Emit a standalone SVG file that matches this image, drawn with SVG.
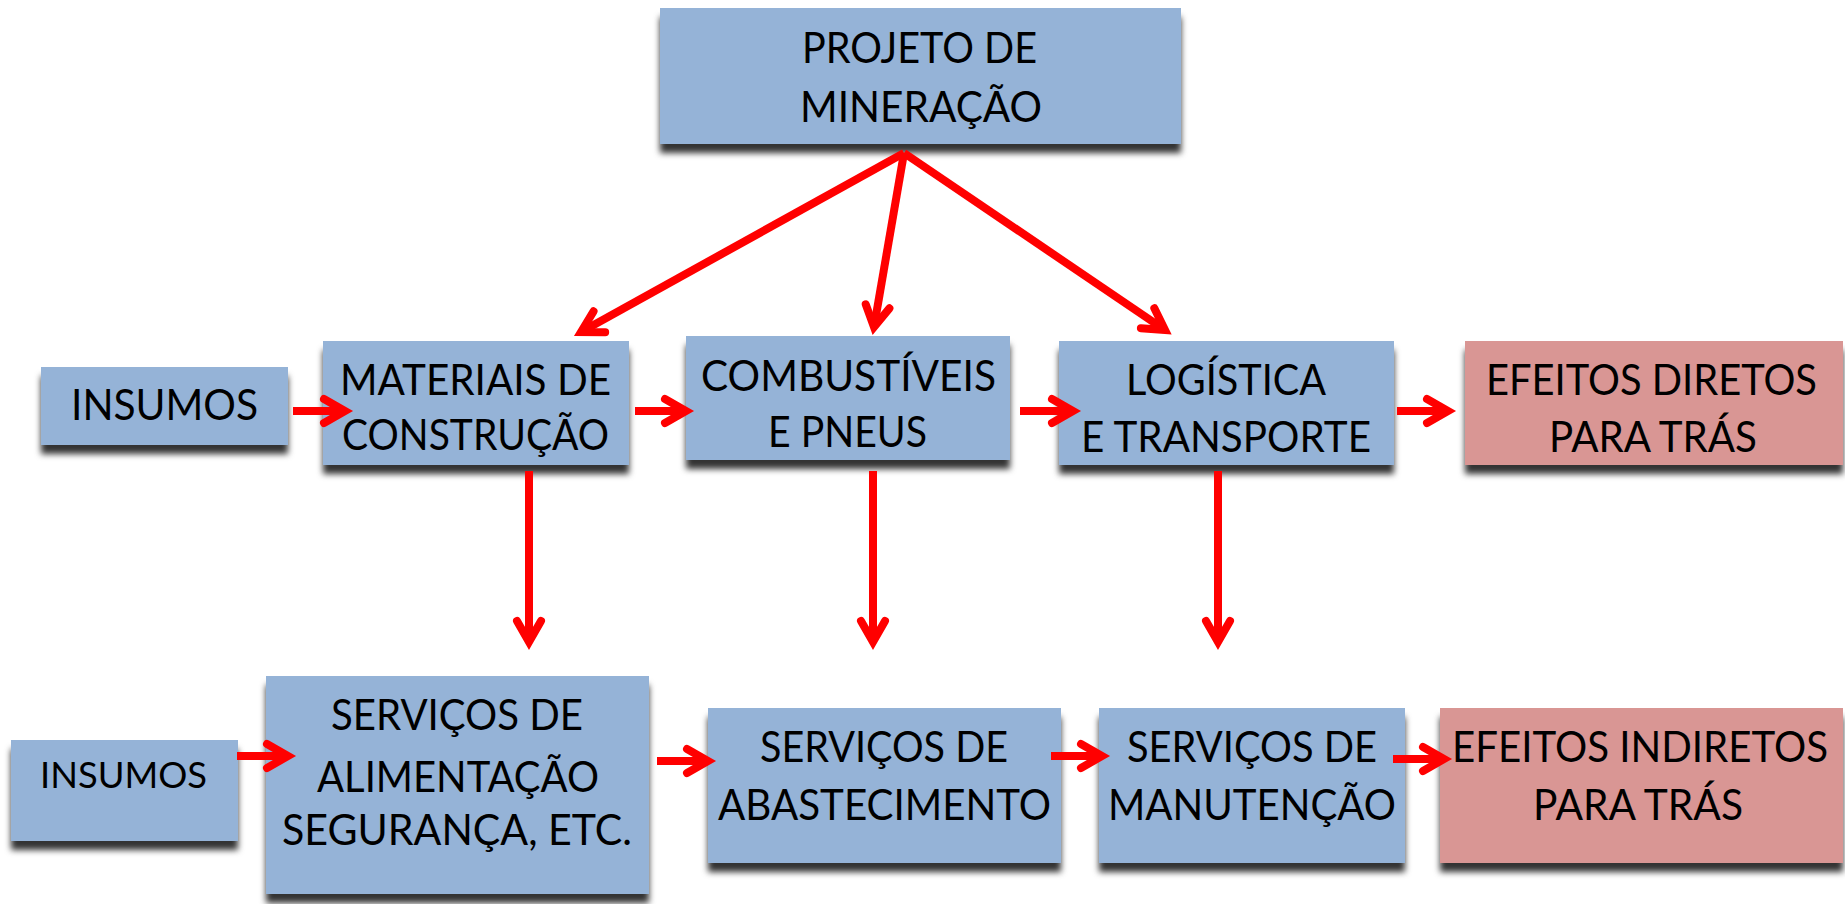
<svg xmlns="http://www.w3.org/2000/svg" width="1845" height="904" viewBox="0 0 1845 904">
<style>
.b{fill:#95B3D7;filter:url(#sh)}
.p{fill:#D99694;filter:url(#sh)}
text{font-family:Lato,"Open Sans","Liberation Sans",sans-serif;font-size:42px;fill:#000}
.s{font-size:36px}
.c line{stroke:#FF0000;stroke-width:8;marker-end:url(#ah)}
</style>
<defs>
<filter id="sh" x="-5%" y="-10%" width="110%" height="135%">
<feDropShadow dx="0" dy="9" stdDeviation="3" flood-color="#000" flood-opacity="0.8"/>
</filter>
<marker id="ah" markerUnits="userSpaceOnUse" markerWidth="40" markerHeight="40" viewBox="-30 -20 40 40" refX="0" refY="0" orient="auto" overflow="visible">
<path d="M-21,-12 L0,0 L-21,12" fill="none" stroke="#FF0000" stroke-width="8" stroke-linecap="round" stroke-linejoin="miter"/>
</marker>
</defs>
<rect width="1845" height="904" fill="#fff"/>
<g id="projeto"><rect class="b" x="660" y="8" width="521" height="136"/>
<text x="802" y="63" textLength="235" lengthAdjust="spacingAndGlyphs">PROJETO DE</text>
<text x="800" y="122" textLength="242" lengthAdjust="spacingAndGlyphs">MINERAÇÃO</text></g>
<g id="insumos1"><rect class="b" x="41" y="367" width="247" height="78"/>
<text x="71" y="420" textLength="187" lengthAdjust="spacingAndGlyphs">INSUMOS</text></g>
<g id="materiais"><rect class="b" x="323" y="341" width="306" height="124"/>
<text x="340" y="395" textLength="271" lengthAdjust="spacingAndGlyphs">MATERIAIS DE</text>
<text x="342" y="450" textLength="267" lengthAdjust="spacingAndGlyphs">CONSTRUÇÃO</text></g>
<g id="combustiveis"><rect class="b" x="686" y="336" width="324" height="124"/>
<text x="701" y="391" textLength="295" lengthAdjust="spacingAndGlyphs">COMBUSTÍVEIS</text>
<text x="768" y="447" textLength="159" lengthAdjust="spacingAndGlyphs">E PNEUS</text></g>
<g id="logistica"><rect class="b" x="1059" y="341" width="335" height="124"/>
<text x="1126" y="395" textLength="200" lengthAdjust="spacingAndGlyphs">LOGÍSTICA</text>
<text x="1081" y="452" textLength="290" lengthAdjust="spacingAndGlyphs">E TRANSPORTE</text></g>
<g id="efeitos-diretos"><rect class="p" x="1465" y="341" width="378" height="124"/>
<text x="1486" y="395" textLength="331" lengthAdjust="spacingAndGlyphs">EFEITOS DIRETOS</text>
<text x="1549" y="452" textLength="208" lengthAdjust="spacingAndGlyphs">PARA TRÁS</text></g>
<g id="insumos2"><rect class="b" x="11" y="740" width="227" height="101"/>
<text class="s" x="40" y="788" textLength="167" lengthAdjust="spacingAndGlyphs">INSUMOS</text></g>
<g id="alimentacao"><rect class="b" x="266" y="676" width="383" height="218"/>
<text x="331" y="730" textLength="252" lengthAdjust="spacingAndGlyphs">SERVIÇOS DE</text>
<text x="317" y="792" textLength="282" lengthAdjust="spacingAndGlyphs">ALIMENTAÇÃO</text>
<text x="282" y="845" textLength="350" lengthAdjust="spacingAndGlyphs">SEGURANÇA, ETC.</text></g>
<g id="abastecimento"><rect class="b" x="708" y="708" width="353" height="155"/>
<text x="760" y="762" textLength="248" lengthAdjust="spacingAndGlyphs">SERVIÇOS DE</text>
<text x="718" y="820" textLength="333" lengthAdjust="spacingAndGlyphs">ABASTECIMENTO</text></g>
<g id="manutencao"><rect class="b" x="1099" y="708" width="306" height="155"/>
<text x="1127" y="762" textLength="250" lengthAdjust="spacingAndGlyphs">SERVIÇOS DE</text>
<text x="1108" y="820" textLength="288" lengthAdjust="spacingAndGlyphs">MANUTENÇÃO</text></g>
<g id="efeitos-indiretos"><rect class="p" x="1440" y="708" width="403" height="155"/>
<text x="1452" y="762" textLength="376" lengthAdjust="spacingAndGlyphs">EFEITOS INDIRETOS</text>
<text x="1533" y="820" textLength="210" lengthAdjust="spacingAndGlyphs">PARA TRÁS</text></g>
<g id="connectors" class="c">
<line x1="904" y1="153" x2="581" y2="332"/>
<line x1="904" y1="153" x2="874" y2="327"/>
<line x1="904" y1="153" x2="1165" y2="330"/>
<line x1="293" y1="411" x2="345" y2="411"/>
<line x1="635" y1="411" x2="686" y2="411"/>
<line x1="1020" y1="411" x2="1073" y2="411"/>
<line x1="1397" y1="411" x2="1448" y2="411"/>
<line x1="529" y1="471" x2="529" y2="642"/>
<line x1="873" y1="471" x2="873" y2="642"/>
<line x1="1218" y1="471" x2="1218" y2="642"/>
<line x1="237" y1="756" x2="288" y2="756"/>
<line x1="657" y1="761" x2="708" y2="761"/>
<line x1="1051" y1="756" x2="1102" y2="756"/>
<line x1="1393" y1="759" x2="1444" y2="759"/>
</g>
</svg>
